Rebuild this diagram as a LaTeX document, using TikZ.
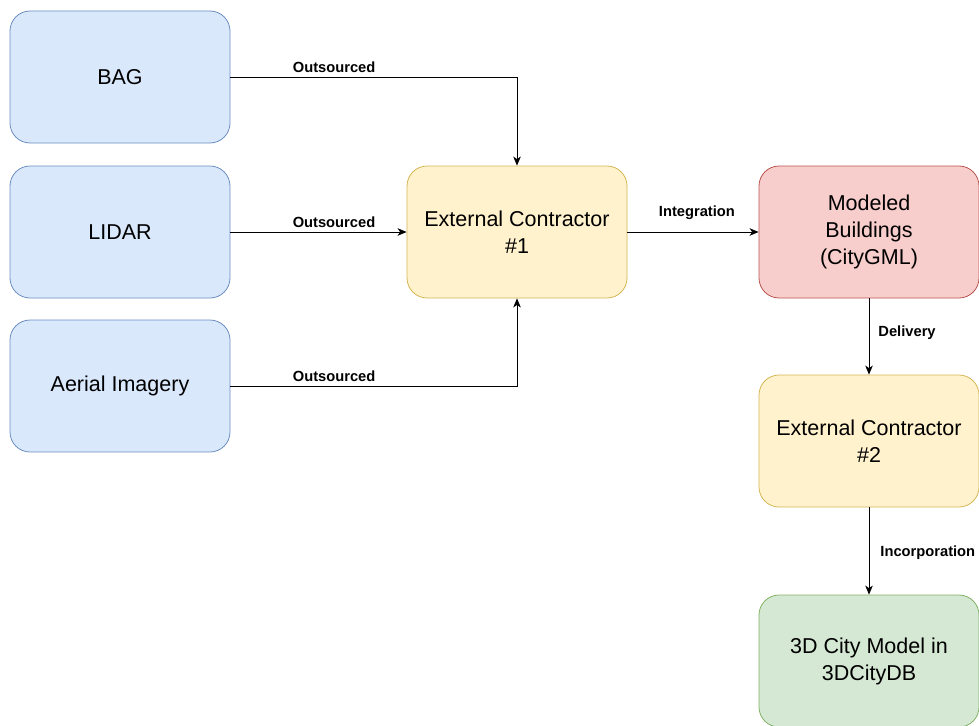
\documentclass[tikz,border=0pt]{standalone}
\usepackage{fontspec}
\setmainfont{Liberation Sans}
\usetikzlibrary{arrows.meta}
\definecolor{bluefill}{HTML}{DAE8FC}\definecolor{bluedraw}{HTML}{6C8EBF}
\definecolor{yelfill}{HTML}{FFF2CC}\definecolor{yeldraw}{HTML}{D6B656}
\definecolor{redfill}{HTML}{F8CECC}\definecolor{reddraw}{HTML}{B85450}
\definecolor{grnfill}{HTML}{D5E8D4}\definecolor{grndraw}{HTML}{82B366}
\tikzset{
  box/.style={rectangle, rounded corners=20pt, minimum width=220pt, minimum height=132pt,
    inner sep=0pt, align=center, font=\fontsize{21.5}{27}\selectfont, line width=0.8pt},
  bluebox/.style={box, fill=bluefill, draw=bluedraw},
  yelbox/.style={box, fill=yelfill, draw=yeldraw},
  redbox/.style={box, fill=redfill, draw=reddraw},
  grnbox/.style={box, fill=grnfill, draw=grndraw},
  conn/.style={line width=0.9pt, -{Stealth[length=9pt,width=7.5pt,inset=2.5pt]}},
  lbl/.style={font=\fontsize{14.7}{17}\selectfont\bfseries, inner sep=0pt, anchor=base}
}
\begin{document}
\begin{tikzpicture}[x=1pt,y=-1pt]
\useasboundingbox (0,0) rectangle (979,725);
\node[bluebox] (bag) at (120,77) {BAG};
\node[bluebox] (lidar) at (120,232) {LIDAR};
\node[bluebox] (aerial) at (120,386) {Aerial Imagery};
\node[yelbox] (ec1) at (517,232) {External Contractor\\\#1};
\node[redbox] (mod) at (869,232) {Modeled\\Buildings\\(CityGML)};
\node[yelbox] (ec2) at (869,441) {External Contractor\\\#2};
\node[grnbox] (city) at (869,661) {3D City Model in\\3DCityDB};
\draw[conn] (bag.east) -| node[lbl, pos=0.181, yshift=5pt] {Outsourced} (ec1.north);
\draw[conn] (lidar.east) -- node[lbl, pos=0.588, yshift=5pt] {Outsourced} (ec1.west);
\draw[conn] (aerial.east) -| node[lbl, pos=0.181, yshift=5pt] {Outsourced} (ec1.south);
\draw[conn] (ec1.east) -- node[lbl, pos=0.53, yshift=16pt] {Integration} (mod.west);
\draw[conn] (mod.south) -- node[lbl, pos=0.5, anchor=base west, xshift=9pt] {Delivery} (ec2.north);
\draw[conn] (ec2.south) -- node[lbl, pos=0.56, anchor=base west, xshift=11pt] {Incorporation} (city.north);
\end{tikzpicture}
\end{document}
